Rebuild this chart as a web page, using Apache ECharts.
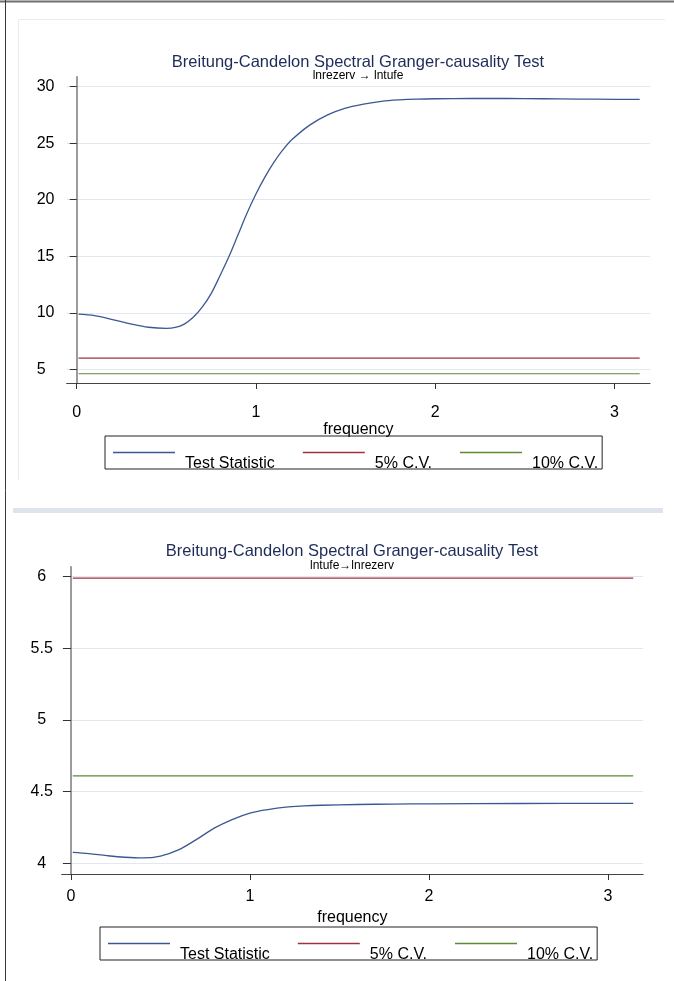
<!DOCTYPE html>
<html>
<head>
<meta charset="utf-8">
<script src="https://cdn.jsdelivr.net/npm/echarts@6/dist/echarts.min.js"></script>
<style>
  html, body { margin: 0; padding: 0; background: #ffffff; }
  #chart { width: 674px; height: 981px; }
</style>
</head>
<body>
<div id="chart"></div>
<script>
// Frequency grid and Wald test statistic, lnrezerv -> lntufe
const freqTop = [0.01, 0.1, 0.2, 0.3, 0.4, 0.5, 0.55, 0.6, 0.65, 0.7, 0.75, 0.8, 0.85, 0.9, 0.95,
  1.0, 1.05, 1.1, 1.15, 1.2, 1.3, 1.4, 1.5, 1.6, 1.7, 1.8, 1.9, 2.0, 2.2, 2.4, 2.6, 2.8, 3.0, 3.1416];
const statTop = [9.88, 9.75, 9.4, 9.02, 8.72, 8.62, 8.7, 9.0, 9.6, 10.5, 11.7, 13.3, 15.0, 16.9, 18.8,
  20.5, 22.0, 23.3, 24.4, 25.3, 26.6, 27.5, 28.1, 28.45, 28.7, 28.83, 28.9, 28.93, 28.95, 28.95, 28.93, 28.9, 28.88, 28.87];

// Frequency grid and Wald test statistic, lntufe -> lnrezerv
const freqBottom = [0.01, 0.1, 0.2, 0.3, 0.4, 0.5, 0.6, 0.7, 0.8, 0.9, 1.0, 1.1, 1.2, 1.3, 1.4,
  1.6, 1.8, 2.0, 2.5, 3.1416];
const statBottom = [4.076, 4.067, 4.053, 4.042, 4.037, 4.05, 4.093, 4.165, 4.245, 4.305, 4.35, 4.375, 4.392, 4.4, 4.405,
  4.41, 4.413, 4.415, 4.417, 4.418];

// Chi-square(2) critical values over the full frequency band
const cvFreq = [0.01, 3.1416];
const cv5 = [5.99, 5.99];
const cv10 = [4.61, 4.61];

// Tick labels
const xTicks = [0, 1, 2, 3];
const yTicksTop = [5, 10, 15, 20, 25, 30];
const yTicksBottom = [4, 4.5, 5, 5.5, 6];

const seriesNames = ['Test Statistic', '5% C.V.', '10% C.V.'];
const colors = ['#3b5893', '#a3313d', '#5e8a35'];

const FONT = "'Liberation Sans', Arial, Helvetica, sans-serif";
const GRID_LINE = '#e3e8ef';

const pairs = (xs, ys) => xs.map((x, i) => [x, ys[i]]);

function xAxisFor(gridIndex, min, max, labelMargin, nameGap) {
  return {
    type: 'value', gridIndex, min, max,
    name: 'frequency', nameLocation: 'middle', nameGap,
    nameTextStyle: { fontFamily: FONT, fontSize: 16, color: '#000', verticalAlign: 'middle' },
    axisLine: { show: true, lineStyle: { color: '#444', width: 1.2 } },
    axisTick: { show: true, length: 6, customValues: xTicks, lineStyle: { color: '#333', width: 1 } },
    axisLabel: { customValues: xTicks, margin: labelMargin, fontFamily: FONT, fontSize: 16, color: '#000', verticalAlign: 'middle' },
    splitLine: { show: false }
  };
}

function yAxisFor(gridIndex, min, max, ticks, align, margin, tickLen) {
  return {
    type: 'value', gridIndex, min, max,
    axisLine: { show: true, lineStyle: { color: '#7a7a7a', width: 1.5 } },
    axisTick: { show: true, length: tickLen, customValues: ticks, lineStyle: { color: '#333', width: 1 } },
    axisLabel: { customValues: ticks, align, margin, fontFamily: FONT, fontSize: 16, color: '#000' },
    splitLine: { show: true, lineStyle: { color: GRID_LINE, width: 1 } }
  };
}

function seriesFor(idx, freq, stat) {
  const common = { type: 'line', xAxisIndex: idx, yAxisIndex: idx, symbol: 'none', showSymbol: false, silent: true, z: 3 };
  return [
    Object.assign({}, common, { name: seriesNames[0], data: pairs(freq, stat), smooth: 0.35,
      lineStyle: { color: colors[0], width: 1.3 }, itemStyle: { color: colors[0] } }),
    Object.assign({}, common, { name: seriesNames[1], data: pairs(cvFreq, cv5),
      lineStyle: { color: colors[1], width: 1.2 }, itemStyle: { color: colors[1] } }),
    Object.assign({}, common, { name: seriesNames[2], data: pairs(cvFreq, cv10),
      lineStyle: { color: colors[2], width: 1.2 }, itemStyle: { color: colors[2] } })
  ];
}

// Key: a thin line sample with its label set lower and to the right, inside a framed box
function legendFor(left, top) {
  return {
    data: seriesNames.map((name, i) => ({ name, itemStyle: { color: colors[i], borderWidth: 0 } })),
    left, top, orient: 'horizontal',
    icon: 'rect', itemWidth: 62, itemHeight: 1.4, itemGap: 28,
    padding: [-2.5, 4, -2.5, 8],
    borderColor: '#222', borderWidth: 1,
    selectedMode: false,
    formatter: '{k|{name}}',
    textStyle: {
      fontFamily: FONT, fontSize: 16, color: '#000',
      rich: { k: { fontFamily: FONT, fontSize: 16, color: '#000', lineHeight: 10, padding: [22, 0, 0, 5] } }
    }
  };
}

function titleAt(text, x, top, size, color) {
  return { text, left: x, top, textAlign: 'center', padding: 0,
    textStyle: { fontFamily: FONT, fontSize: size, fontWeight: 'normal', color, lineHeight: size + 4 } };
}

const chart = echarts.init(document.getElementById('chart'), null, { renderer: 'canvas', width: 674, height: 981 });

chart.setOption({
  animation: false,
  backgroundColor: '#ffffff',
  title: [
    titleAt('Breitung-Candelon Spectral Granger-causality Test', 358, 52, 16.5, '#1e2b58'),
    titleAt('lnrezerv \u2192 lntufe', 358, 68, 12, '#000'),
    titleAt('Breitung-Candelon Spectral Granger-causality Test', 352, 541, 16.5, '#1e2b58'),
    titleAt('lntufe\u2192lnrezerv', 352, 558, 12, '#000')
  ],
  legend: [legendFor(105, 436), legendFor(100, 927)],
  grid: [
    { left: 66.7, right: 24, top: 76.7, bottom: 598, outerBoundsMode: 'none', containLabel: false },
    { left: 61.7, right: 31, top: 566.7, bottom: 107, outerBoundsMode: 'none', containLabel: false }
  ],
  xAxis: [
    xAxisFor(0, -0.056, 3.199, 30, 45),
    xAxisFor(1, -0.052, 3.196, 23, 44)
  ],
  yAxis: [
    yAxisFor(0, 3.79, 30.88, yTicksTop, 'left', 30, 7),
    yAxisFor(1, 3.925, 6.07, yTicksBottom, 'center', 20, 8)
  ],
  series: [].concat(seriesFor(0, freqTop, statTop), seriesFor(1, freqBottom, statBottom)),
  graphic: [
    // outer page edges
    { type: 'line', shape: { x1: 0, y1: 1.5, x2: 674, y2: 1.5 }, style: { stroke: '#6f6f6f', lineWidth: 2 }, silent: true },
    { type: 'line', shape: { x1: 5.5, y1: 0, x2: 5.5, y2: 981 }, style: { stroke: '#3a3a3a', lineWidth: 1 }, silent: true },
    // faint frame of the upper panel
    { type: 'line', shape: { x1: 18.5, y1: 19.5, x2: 665, y2: 19.5 }, style: { stroke: '#e8ecf2', lineWidth: 1 }, silent: true },
    { type: 'line', shape: { x1: 18.5, y1: 19.5, x2: 18.5, y2: 480 }, style: { stroke: '#e8ecf2', lineWidth: 1 }, silent: true },
    // band between the two panels
    { type: 'rect', shape: { x: 13, y: 508, width: 650, height: 5 }, style: { fill: '#dfe4ec' }, silent: true }
  ]
});
</script>
</body>
</html>
